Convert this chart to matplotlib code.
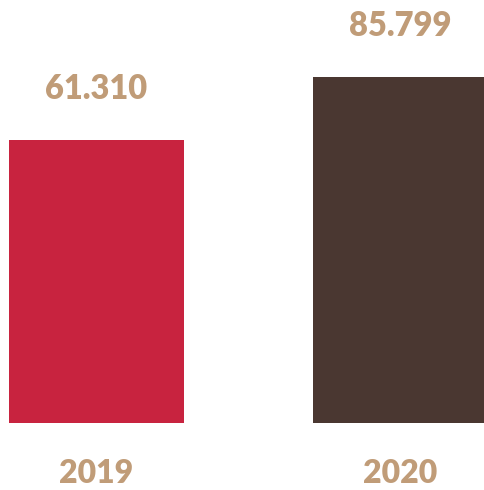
import matplotlib.pyplot as plt

years = ["2019", "2020"]
values = [61.310, 85.799]
value_labels = ["61.310", "85.799"]
bar_colors = ["#C8233F", "#4A3731"]
text_color = "#C09C78"

# axis floor sits below zero in the original chart
y_floor = -48.7
y_top = 115.7

fig = plt.figure(figsize=(4.85, 4.90), dpi=100)
ax = fig.add_axes([0, 67 / 490, 1, 423 / 490])

x = [0, 1]
heights = [v - y_floor for v in values]
ax.bar(x, heights, bottom=y_floor, width=0.574, color=bar_colors)

ax.set_xlim(-0.317, 1.278)
ax.set_ylim(y_floor, y_top)

for xi, v, lab in zip(x, values, value_labels):
    ax.annotate(lab, xy=(xi, v), xytext=(0, 37), textcoords="offset points",
                ha="center", va="center", fontsize=23.5, fontweight="heavy",
                family="Lato", color=text_color)

ax.set_xticks(x)
ax.set_xticklabels(years, fontsize=23, fontweight="heavy", family="Lato",
                   color=text_color, va="center")
ax.tick_params(axis="x", length=0, pad=36)
ax.set_yticks([])
for s in ax.spines.values():
    s.set_visible(False)

fig.savefig("out.png", dpi=100)
